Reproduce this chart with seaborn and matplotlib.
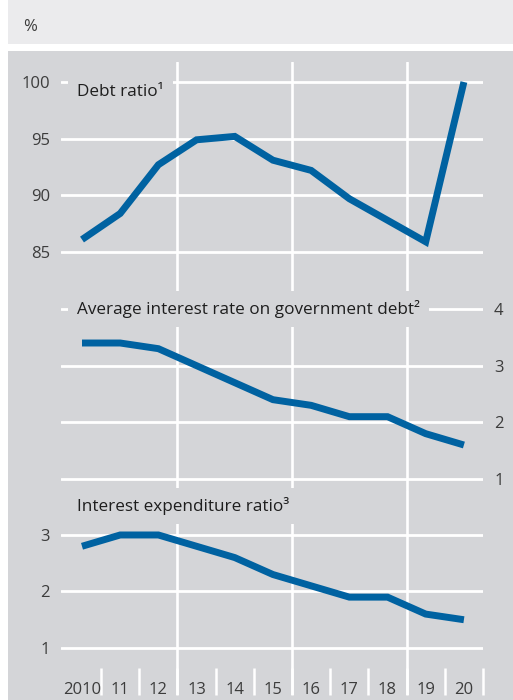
import matplotlib.pyplot as plt
import seaborn as sns
from matplotlib.patches import Rectangle

# values (percent)
years = [2010, 2011, 2012, 2013, 2014, 2015, 2016, 2017, 2018, 2019, 2020]
year_labels = ["2010", "11", "12", "13", "14", "15", "16", "17", "18", "19", "20"]
debt_ratio = [86.1, 88.4, 92.7, 94.9, 95.2, 93.1, 92.2, 89.7, 87.8, 85.9, 100.0]
avg_interest_rate = [3.4, 3.4, 3.3, 3.0, 2.7, 2.4, 2.3, 2.1, 2.1, 1.8, 1.6]
interest_expenditure = [2.8, 3.0, 3.0, 2.8, 2.6, 2.3, 2.1, 1.9, 1.9, 1.6, 1.5]

debt_ticks = [85, 90, 95, 100]
rate_ticks = [1, 2, 3, 4]
expenditure_ticks = [1, 2, 3]

titles = [
    "Debt ratio¹",
    "Average interest rate on government debt²",
    "Interest expenditure ratio³",
]
unit_label = "%"

BLUE = "#0062a1"
PANEL = "#d4d5d8"
TOP_BAND = "#ebebed"
TEXT = "#1e1e1e"
TICK_TEXT = "#3c3c3c"

W, H = 513, 700


def px_box(x0, y0, x1, y1):
    # pixel box (top-left origin) -> figure fraction rect
    return [x0 / W, 1 - y1 / H, (x1 - x0) / W, (y1 - y0) / H]


sns.set_style("white")
plt.rcParams["font.family"] = ["Open Sans", "DejaVu Sans"]

fig = plt.figure(figsize=(W / 100, H / 100), dpi=100)
fig.add_artist(Rectangle((8 / W, 1 - 44 / H), 1, 44 / H, transform=fig.transFigure,
                         fc=TOP_BAND, ec="none", zorder=-1))
fig.add_artist(Rectangle((8 / W, 0), 1, 1 - 51 / H, transform=fig.transFigure,
                         fc=PANEL, ec="none", zorder=-1))
fig.text(23 / W, 1 - 27 / H, unit_label, fontsize=12, color=TICK_TEXT, va="center")

ax1 = fig.add_axes(px_box(61, 62, 483, 300))
ax2 = fig.add_axes(px_box(61, 300, 483, 490))
ax3 = fig.add_axes(px_box(61, 490, 483, 695))

panels = [
    (ax1, debt_ratio, (80.765, 101.765), debt_ticks, "left", 0.874, titles[0]),
    (ax2, avg_interest_rate, (0.806, 4.159), rate_ticks, "right", 0.953, titles[1]),
    (ax3, interest_expenditure, (0.168, 3.796), expenditure_ticks, "left", 0.922, titles[2]),
]
dividers = [years[2] + 0.5, years[5] + 0.5, years[8] + 0.5]

for ax, values, ylim, yticks, side, title_y, title in panels:
    ax.set_facecolor("none")
    for sp in ax.spines.values():
        sp.set_visible(False)
    ax.set_axisbelow(True)

    sns.lineplot(x=years, y=values, ax=ax, color=BLUE, linewidth=5, zorder=3,
                 solid_joinstyle="miter", solid_capstyle="butt")

    ax.set_xlim(2009.45, 2020.5)
    ax.set_ylim(*ylim)
    ax.set_yticks(yticks)
    ax.set_xlabel("")
    ax.set_ylabel("")
    ax.yaxis.grid(True, color="white", linewidth=2)
    ax.xaxis.grid(False)
    for xv in dividers:
        ax.axvline(xv, color="white", linewidth=1.9, zorder=1)

    if side == "right":
        ax.yaxis.tick_right()
    ax.tick_params(axis="y", length=0, pad=8, labelsize=12, labelcolor=TICK_TEXT)

    ax.text(0.038, title_y, title, transform=ax.transAxes, ha="left", va="center",
            fontsize=12.3, color=TEXT, zorder=5,
            bbox=dict(boxstyle="square,pad=0.55", fc=PANEL, ec="none"))

for ax in (ax1, ax2):
    ax.tick_params(axis="x", bottom=False, labelbottom=False)

# white stubs between the years, year labels inside the panel
ax3.set_xticks([y + 0.5 for y in years])
ax3.set_xticks(years, minor=True)
ax3.set_xticklabels(year_labels, minor=True)
ax3.tick_params(axis="x", which="major", bottom=True, direction="in", length=19.4,
                width=1.8, color="white", labelbottom=False)
ax3.tick_params(axis="x", which="minor", bottom=True, length=0, pad=-1, labelsize=12,
                labelcolor=TICK_TEXT, labelbottom=True)
for lab in ax3.get_xticklabels(minor=True):
    lab.set_va("baseline")

fig.savefig("out.png", dpi=100)
